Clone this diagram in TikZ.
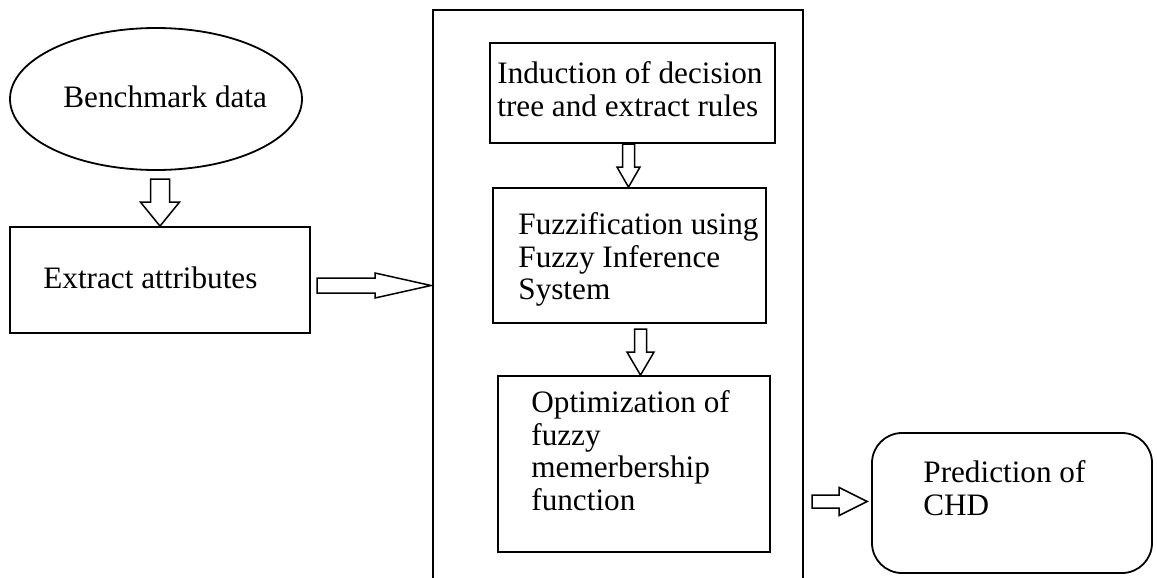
\documentclass[tikz,border=0pt]{standalone}
\usepackage{fontspec}
\setmainfont{Liberation Serif}
\usetikzlibrary{shapes.geometric,calc}
\begin{document}
\begin{tikzpicture}[x=0.5pt,y=-0.5pt,
  box/.style={draw, line width=0.9pt, rectangle, inner sep=0},
  lbl/.style={anchor=north west, inner sep=0, align=left, font=\fontsize{15.6}{16.4}\selectfont},
  blk/.style={draw, line width=0.75pt, fill=white, line join=miter}]
\useasboundingbox (0,0) rectangle (1157,578);
\clip (0,0) rectangle (1157,578);

% left column
\node[box, ellipse, minimum width=146pt, minimum height=71pt] (ell) at (156,99) {};
\node[box, minimum width=150pt, minimum height=53pt] (ext) at (160,280) {};

% processing frame (runs past the lower edge)
\node[box, minimum width=185pt, minimum height=300pt, anchor=north west] (cont) at (432,9) {};
\node[box, minimum width=142.5pt, minimum height=50pt] (ind) at (632.5,93) {};
\node[box, minimum width=136.5pt, minimum height=67.5pt] (fuz) at (629.5,255.5) {};
\node[box, minimum width=136pt, minimum height=88pt] (opt) at (634,464) {};

% result
\node[box, rounded corners=15pt, minimum width=140pt, minimum height=70pt] (pred) at (1012,503) {};

% labels
\node[lbl] (tben) at (63,84) {\strut Benchmark data};
\node[lbl] (text) at (43,265) {\strut Extract attributes};
\node[lbl] (tind) at (497,60) {\strut Induction of decision\\tree and extract rules};
\node[lbl] (tfuz) at (518,211) {\strut Fuzzification using\\Fuzzy Inference\\System};
\node[lbl] (topt) at (531,389) {\strut Optimization of\\fuzzy\\memerbership\\function};
\node[lbl] (tpre) at (923,459) {\strut Prediction of\\CHD};

% block arrows, tips on the target nodes
\coordinate (t1) at (ext.north);
\draw[blk] (t1) -- ++(-19.5,-24) -- ++(10,0) -- ++(0,-23) -- ++(19,0) -- ++(0,23) -- ++(10,0) -- cycle;

\coordinate (t2) at ($(ext.east -| cont.west)+(-1,5.5)$);
\draw[blk] (t2) -- ++(-56,-12.5) -- ++(0,5) -- ++(-58,0) -- ++(0,15) -- ++(58,0) -- ++(0,5) -- cycle;

\coordinate (t3) at ($(fuz.north)+(-1,0)$);
\draw[blk] (t3) -- ++(-11.5,-20) -- ++(5.5,0) -- ++(0,-23) -- ++(12,0) -- ++(0,23) -- ++(5.5,0) -- cycle;

\coordinate (t4) at ($(opt.north)+(6.5,0)$);
\draw[blk] (t4) -- ++(-13.5,-23) -- ++(7.5,0) -- ++(0,-23) -- ++(12,0) -- ++(0,23) -- ++(7.5,0) -- cycle;

\coordinate (t5) at ($(pred.west)+(-4,-1.5)$);
\draw[blk] (t5) -- ++(-28,-14) -- ++(0,7.5) -- ++(-27,0) -- ++(0,13) -- ++(27,0) -- ++(0,7.5) -- cycle;
\end{tikzpicture}
\end{document}
